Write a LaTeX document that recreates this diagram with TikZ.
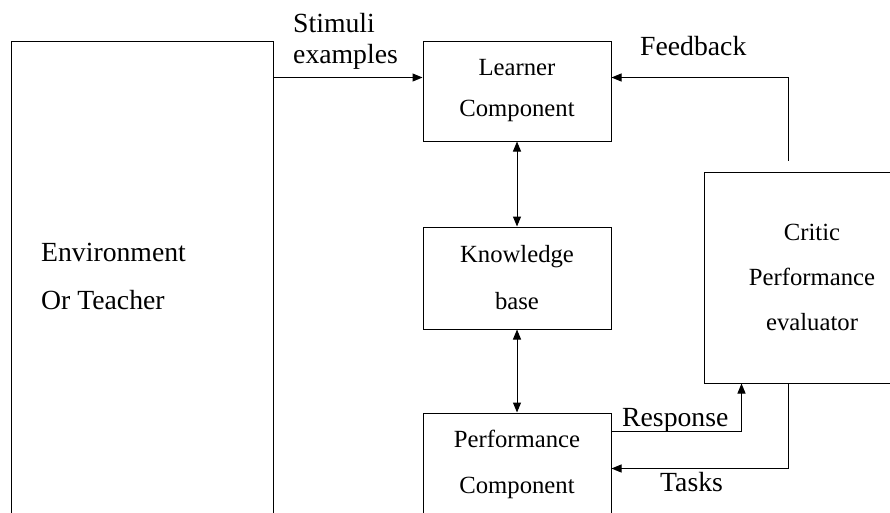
\documentclass[tikz,border=0pt]{standalone}
\usepackage{fontspec}
\setmainfont{Liberation Serif}
\usetikzlibrary{arrows.meta,calc}

\tikzset{
  wire/.style={line width=1pt, draw=black},
  tip/.style={-{Triangle[length=10pt,width=8pt]}},
  bothtips/.style={{Triangle[length=10pt,width=8pt]}-{Triangle[length=10pt,width=8pt]}},
  block/.style={draw=black, line width=1pt, inner sep=0pt, align=center,
                font=\fontsize{24.7}{45}\selectfont},
  lbl/.style={inner sep=0pt, font=\fontsize{27.7}{31}\selectfont}
}

\begin{document}
\begin{tikzpicture}[x=1pt,y=-1pt]
  \useasboundingbox (0,0) rectangle (890,512);
  \clip (0,0) rectangle (890,512);
  \fill[white] (0,0) rectangle (890,512);

  % boxes (the tall ones run past the lower edge, the critic past the right edge)
  \node[block, minimum width=262pt, minimum height=519pt] (env) at (142,300.5) {};
  % multi-line labels: the base anchor sits on the last line
  \node[lbl, anchor=base west, align=left, font=\fontsize{27.7}{48}\selectfont]
       (envtext) at (41,309) {Environment\\Or Teacher};

  \node[block, minimum width=188pt, minimum height=100pt,
        font=\fontsize{24.7}{41}\selectfont] (learner) at (517,91) {Learner\\Component};
  \node[block, minimum width=188pt, minimum height=102pt,
        font=\fontsize{24.7}{47}\selectfont] (kb) at (517,278) {Knowledge\\base};
  \node[block, minimum width=188pt, minimum height=103pt,
        font=\fontsize{24.7}{46}\selectfont] (perf) at (517,464.5) {Performance\\Component};
  \node[block, minimum width=216pt, minimum height=211pt] (critic) at (812,277.5)
       {Critic\\Performance\\evaluator};

  % attachment points on the box edges
  \coordinate (lin)  at ([yshift=-37pt]learner.north west);
  \coordinate (lout) at ([yshift=-37pt]learner.north east);
  \coordinate (cfb)  at ([xshift=85pt]critic.north west);
  \coordinate (ctk)  at ([xshift=85pt]critic.south west);
  \coordinate (crs)  at ([xshift=38pt]critic.south west);
  \coordinate (prs)  at ([yshift=-19pt]perf.north east);
  \coordinate (ptk)  at ([yshift=-56pt]perf.north east);

  % connectors
  \draw[wire, tip] (env.east |- lin) -- (lin);
  \draw[wire, tip, shorten <=11pt] (cfb) |- (lout);
  \draw[wire, bothtips] (learner.south) -- (kb.north);
  \draw[wire, bothtips] (kb.south) -- (perf.north);
  \draw[wire, tip] (prs) -| (crs);
  \draw[wire, tip] (ctk) |- (ptk);

  % connector labels
  \node[lbl, anchor=base west, align=left] (stim) at (293,63) {Stimuli\\examples};
  \node[lbl, anchor=base west] (fbk) at (640,55) {Feedback};
  \node[lbl, anchor=base west] (resp) at (622,426) {Response};
  \node[lbl, anchor=base west] (tasks) at (660,491) {Tasks};
\end{tikzpicture}
\end{document}
